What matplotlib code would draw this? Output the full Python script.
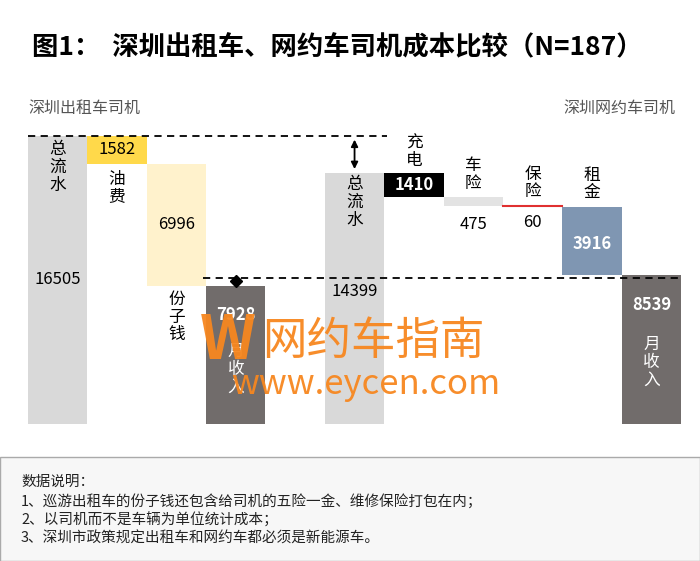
import matplotlib.pyplot as plt
from matplotlib.patches import Rectangle

plt.rcParams['font.family'] = ['Noto Sans CJK SC', 'DejaVu Sans']

# --- 数据 ---
taxi_items = ["总流水", "油费", "份子钱", "月收入"]
taxi_vals = [16505, 1582, 6996, 7928]
ride_items = ["总流水", "充电", "车险", "保险", "租金", "月收入"]
ride_vals = [14399, 1410, 475, 60, 3916, 8539]
notes = ["数据说明：",
         "1、巡游出租车的份子钱还包含给司机的五险一金、维修保险打包在内；",
         "2、以司机而不是车辆为单位统计成本；",
         "3、深圳市政策规定出租车和网约车都必须是新能源车。"]

GRAY, DARK = "#d9d9d9", "#716c6b"
taxi_colors = [GRAY, "#ffd94a", "#fff2cc", DARK]
ride_colors = [GRAY, "#000000", "#e3e3e3", "#e03030", "#7f96b2", DARK]

fig = plt.figure(figsize=(7, 5.61), dpi=100)
ax = fig.add_axes([0.04, 0.2442, 0.933, 0.5954])
ax.set_xlim(-0.5, 10.5)
ax.set_ylim(0, 19140)
ax.axis("off")
W = 1.0


def waterfall(x0, vals, colors):
    tops, bots = [], []
    level = vals[0]
    tops.append(vals[0]); bots.append(0)
    for v in vals[1:-1]:
        tops.append(level); bots.append(level - v)
        level -= v
    tops.append(vals[-1]); bots.append(0)
    for i, (t, b, c) in enumerate(zip(tops, bots, colors)):
        if c == "#e03030":
            ax.plot([x0 + i - W / 2, x0 + i + W / 2], [t, t], color=c, lw=1.5)
        else:
            ax.bar(x0 + i, t - b, bottom=b, width=W, color=c)
    return tops, bots


tt, tb = waterfall(0, taxi_vals, taxi_colors)
rt, rb = waterfall(5, ride_vals, ride_colors)

fs = 12
# 出租车标签
ax.text(0, tt[0] - 300, "总\n流\n水", ha="center", va="top", fontsize=fs, linespacing=1.05)
ax.text(0, 8300, f"{taxi_vals[0]}", ha="center", va="center", fontsize=fs)
ax.text(1, (tt[1] + tb[1]) / 2, f"{taxi_vals[1]}", ha="center", va="center", fontsize=fs)
ax.text(1, tb[1] - 400, "油\n费", ha="center", va="top", fontsize=fs, linespacing=1.05)
ax.text(2, (tt[2] + tb[2]) / 2, f"{taxi_vals[2]}", ha="center", va="center", fontsize=fs)
ax.text(2, tb[2] - 300, "份\n子\n钱", ha="center", va="top", fontsize=fs, linespacing=1.05)
ax.text(3, tt[3] - 1700, f"{taxi_vals[3]}", ha="center", va="center", fontsize=fs,
        color="white", fontweight="bold")
ax.text(3, tt[3] - 3300, "月\n收\n入", ha="center", va="top", fontsize=fs, color="white",
        linespacing=1.05)

# 网约车标签
ax.text(5, rt[0] - 200, "总\n流\n水", ha="center", va="top", fontsize=fs, linespacing=1.05)
ax.text(5, 7600, f"{ride_vals[0]}", ha="center", va="center", fontsize=fs)
ax.text(6, (rt[1] + rb[1]) / 2, f"{ride_vals[1]}", ha="center", va="center", fontsize=fs,
        color="white", fontweight="bold")
ax.text(6, rt[1] + 200, "充\n电", ha="center", va="bottom", fontsize=fs, linespacing=1.05)
ax.text(7, rt[2] + 300, "车\n险", ha="center", va="bottom", fontsize=fs, linespacing=1.05)
ax.text(7, rb[2] - 1100, f"{ride_vals[2]}", ha="center", va="center", fontsize=fs)
ax.text(8, rt[3] + 300, "保\n险", ha="center", va="bottom", fontsize=fs, linespacing=1.05)
ax.text(8, rb[3] - 900, f"{ride_vals[3]}", ha="center", va="center", fontsize=fs)
ax.text(9, rt[4] + 300, "租\n金", ha="center", va="bottom", fontsize=fs, linespacing=1.05)
ax.text(9, (rt[4] + rb[4]) / 2 - 200, f"{ride_vals[4]}", ha="center", va="center", fontsize=fs,
        color="white", fontweight="bold")
ax.text(10, rt[5] - 1700, f"{ride_vals[5]}", ha="center", va="center", fontsize=fs,
        color="white", fontweight="bold")
ax.text(10, rt[5] - 3500, "月\n收\n入", ha="center", va="top", fontsize=fs, color="white",
        linespacing=1.05)

# 虚线与箭头
ax.plot([-0.5, 5.55], [taxi_vals[0]] * 2, ls=(0, (4, 3)), color="black", lw=1.3)
ax.plot([2.45, 10.5], [ride_vals[-1] - 150] * 2, ls=(0, (4, 3)), color="black", lw=1.3)
ax.annotate("", xy=(5, rt[0] + 50), xytext=(5, taxi_vals[0] - 50),
            arrowprops=dict(arrowstyle="<|-|>", color="black", lw=1.3, mutation_scale=10))
ax.plot([3, 3], [taxi_vals[3] + 50, ride_vals[-1] - 150], color="black", lw=1.2)
ax.plot([3], [(taxi_vals[3] + ride_vals[-1]) / 2 - 50], marker="D", color="black", ms=6)

# 标题与副标题
fig.text(0.045, 0.915, "图1：  深圳出租车、网约车司机成本比较（N=187）", fontsize=19,
         fontweight="bold", va="center")
fig.text(0.04, 0.807, "深圳出租车司机", fontsize=11.5, color="#555555", va="center")
fig.text(0.965, 0.807, "深圳网约车司机", fontsize=11.5, color="#555555", va="center", ha="right")

# 水印
fig.text(0.285, 0.392, "W", fontsize=44, color="#f7871f", fontweight="bold", va="center",
         ha="left", alpha=0.95)
fig.text(0.375, 0.392, "网约车指南", fontsize=32, color="#f7871f", va="center", alpha=0.95)
fig.text(0.33, 0.315, "www.eycen.com", fontsize=25, color="#f7871f", va="center", alpha=0.95)

# 数据说明
fig.add_artist(Rectangle((0.0, 0.0), 1.0, 0.185, transform=fig.transFigure,
                         facecolor="#f7f7f7", edgecolor="#aaaaaa", lw=1))
for i, line in enumerate(notes):
    fig.text(0.03, 0.141 - i * 0.034, line, fontsize=10.5, va="center", color="#222222")

fig.savefig("out.png", dpi=100, facecolor="white")
